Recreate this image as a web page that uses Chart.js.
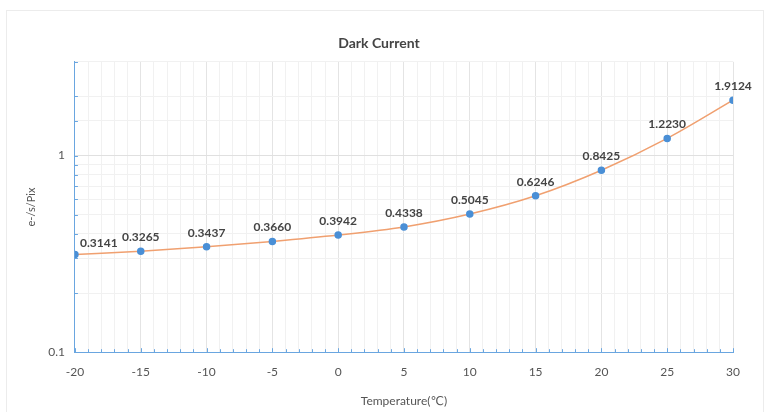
<!DOCTYPE html>
<html>
<head>
<meta charset="utf-8">
<script src="https://cdn.jsdelivr.net/npm/chart.js@4/dist/chart.umd.min.js"></script>
<style>
  html, body { margin: 0; padding: 0; background: #fff; }
  #card { position: absolute; left: 6px; top: 10px; width: 758px; height: 410px; border: 1px solid #ececec; box-sizing: border-box; }
  #wrap { position: absolute; left: 0; top: 0; width: 765px; height: 412px; }
</style>
</head>
<body>
<div id="card"></div>
<div id="wrap"><canvas id="chart"></canvas></div>
<script>
// Chart data
const temps = [-20, -15, -10, -5, 0, 5, 10, 15, 20, 25, 30];
const darkCurrent = [0.3141, 0.3265, 0.3437, 0.3660, 0.3942, 0.4338, 0.5045, 0.6246, 0.8425, 1.2230, 1.9124];
const yTickLabels = [0.1, 1];
const xLabelStep = 5;

const FONT = "Lato, 'DejaVu Sans', sans-serif";
const axisBlue = "#6aa6e0";

// draws value labels above each point
const valueLabels = {
  id: "valueLabels",
  afterDatasetsDraw(chart) {
    const ctx = chart.ctx;
    const meta = chart.getDatasetMeta(0);
    ctx.save();
    ctx.font = "bold 12px " + FONT;
    ctx.fillStyle = "#444";
    ctx.textBaseline = "bottom";
    meta.data.forEach((pt, i) => {
      const txt = darkCurrent[i].toFixed(4);
      if (i === 0) {
        ctx.textAlign = "left";
        ctx.fillText(txt, pt.x + 5, pt.y - 5);
      } else {
        ctx.textAlign = "center";
        ctx.fillText(txt, pt.x, pt.y - 8);
      }
    });
    ctx.restore();
  }
};

// small inward tick marks on both axes
const innerTicks = {
  id: "innerTicks",
  afterDraw(chart) {
    const ctx = chart.ctx;
    const { x, y } = chart.scales;
    const area = chart.chartArea;
    ctx.save();
    ctx.strokeStyle = axisBlue;
    ctx.lineWidth = 1;
    ctx.beginPath();
    x.ticks.forEach((t) => {
      const px = Math.round(x.getPixelForValue(t.value)) + 0.5;
      const len = t.value % xLabelStep === 0 ? 4 : 3;
      ctx.moveTo(px, area.bottom);
      ctx.lineTo(px, area.bottom - len);
    });
    y.ticks.forEach((t) => {
      const py = Math.round(y.getPixelForValue(t.value)) + 0.5;
      ctx.moveTo(area.left, py);
      ctx.lineTo(area.left + 3, py);
    });
    ctx.stroke();
    ctx.restore();
  }
};

const ctx = document.getElementById("chart").getContext("2d");
new Chart(ctx, {
  type: "line",
  data: {
    datasets: [{
      label: "Dark Current",
      data: temps.map((t, i) => ({ x: t, y: darkCurrent[i] })),
      borderColor: "#f0a070",
      borderWidth: 1.5,
      backgroundColor: "#4a8fd6",
      pointBackgroundColor: "#4a8fd6",
      pointBorderColor: "#4a8fd6",
      pointRadius: 3,
      tension: 0.25,
      cubicInterpolationMode: "monotone"
    }]
  },
  options: {
    responsive: true,
    maintainAspectRatio: false,
    animation: false,
    layout: { padding: { left: 25, right: 32, top: 24, bottom: 0 } },
    plugins: {
      legend: { display: false },
      tooltip: { enabled: false },
      title: {
        display: true,
        text: "Dark Current",
        color: "#444",
        font: { family: FONT, size: 14, weight: "bold" },
        padding: { top: 11, bottom: 10 }
      }
    },
    scales: {
      x: {
        type: "linear",
        min: -20,
        max: 30,
        ticks: {
          stepSize: 1,
          autoSkip: false,
          maxRotation: 0,
          color: "#555",
          padding: 13,
          font: { family: FONT, size: 12 },
          callback: (v) => (v % xLabelStep === 0 ? String(v) : "")
        },
        grid: {
          drawTicks: false,
          color: (c) => (c.tick && c.tick.value % xLabelStep === 0 ? "#e4e4e4" : "#f1f1f1")
        },
        border: { color: axisBlue, width: 1 },
        title: {
          display: true,
          text: "Temperature(℃)",
          color: "#555",
          font: { family: FONT, size: 12 },
          padding: { top: 1 }
        }
      },
      y: {
        type: "logarithmic",
        min: 0.1,
        max: 3,
        ticks: {
          autoSkip: false,
          color: "#555",
          padding: 10,
          font: { family: FONT, size: 12 },
          callback: (v) => (yTickLabels.includes(Number(v)) ? String(v) : "")
        },
        grid: {
          drawTicks: false,
          color: (c) => (c.tick && c.tick.value === 1 ? "#e0e0e0" : "#f1f1f1")
        },
        border: { color: axisBlue, width: 1 },
        title: {
          display: true,
          text: "e-/s/Pix",
          color: "#555",
          font: { family: FONT, size: 11 },
          padding: { top: 0, bottom: 0 }
        }
      }
    }
  },
  plugins: [valueLabels, innerTicks]
});
</script>
</body>
</html>
